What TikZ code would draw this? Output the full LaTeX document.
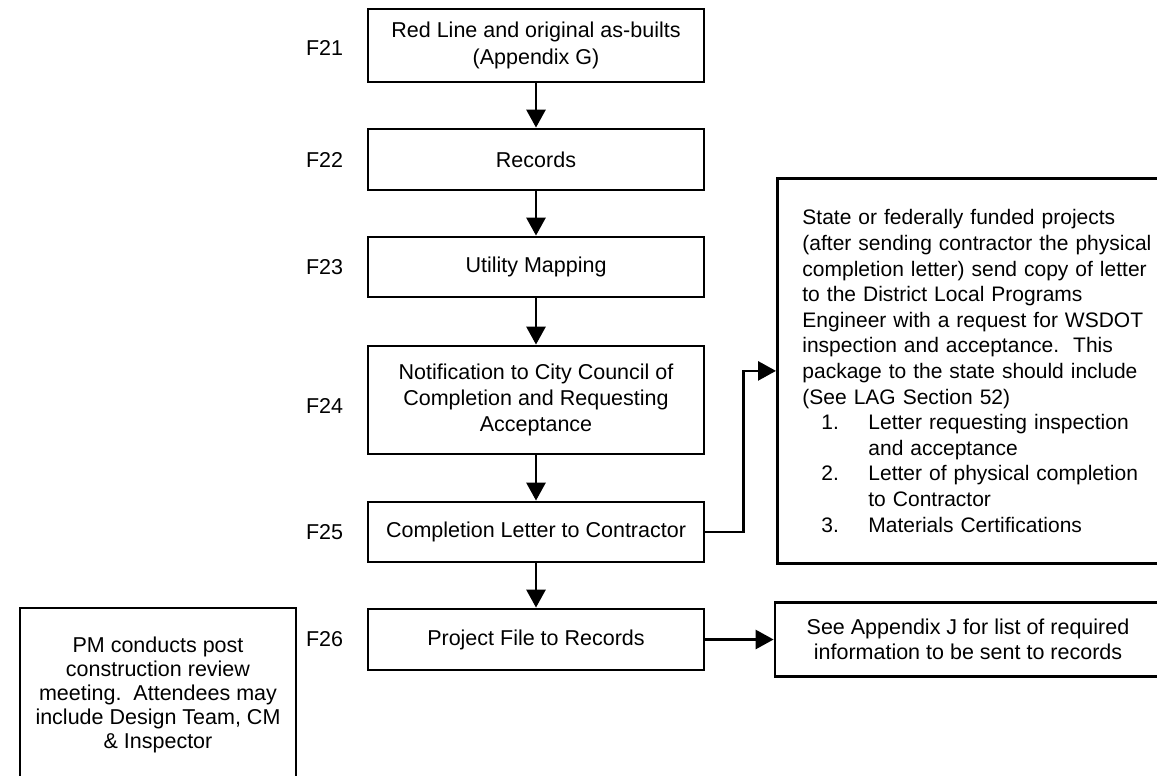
\documentclass[tikz,border=0pt]{standalone}
\usepackage{fontspec}
\setmainfont{Liberation Sans}
\usetikzlibrary{arrows.meta}

\begin{document}
\begin{tikzpicture}[x=1pt, y=-1pt,
  every node/.style={font=\fontsize{21.5}{25.6}\selectfont},
  stepbox/.style={draw, line width=2.8pt, minimum width=336pt,
                  inner sep=0pt, align=center},
  note/.style={draw, line width=2.8pt, inner sep=0pt},
  tag/.style={anchor=east},
  flow/.style={-{Triangle[length=18pt,width=19pt]}, line width=2.8pt}]
  \useasboundingbox (0,0) rectangle (1157,776);
  \clip (0,0) rectangle (1157,776);
  % main column
  \node[stepbox, minimum height=73pt] (f21) at (536,45.5) {Red Line and original as-builts\\[1pt](Appendix G)};
  \node[stepbox, minimum height=61pt] (f22) at (536,159.5) {Records};
  \node[stepbox, minimum height=60pt] (f23) at (536,267) {Utility Mapping};
  \node[stepbox, minimum height=108pt] (f24) at (536,400) {Notification to City Council of\\Completion and Requesting\\Acceptance};
  \node[stepbox, minimum height=60pt] (f25) at (536,532) {Completion Letter to Contractor};
  \node[stepbox, minimum height=61pt] (f26) at (536,639.5) {Project File to Records};
  % step numbers
  \node[tag] (l21) at ([xshift=-20pt,yshift=-2pt]f21.west) {F21};
  \node[tag] (l22) at ([xshift=-20pt]f22.west) {F22};
  \node[tag] (l23) at ([xshift=-20pt]f23.west) {F23};
  \node[tag] (l24) at ([xshift=-20pt,yshift=-6pt]f24.west) {F24};
  \node[tag] (l25) at ([xshift=-20pt]f25.west) {F25};
  \node[tag] (l26) at ([xshift=-20pt]f26.west) {F26};
  % side notes
  \node[note, anchor=north west, minimum height=385pt, inner xsep=25pt,
        text width=360pt, align=left, font=\fontsize{21}{25.6}\selectfont] (pkg) at (776,177)
       {State or federally funded projects\\
        (after sending contractor the physical\\
        completion letter) send copy of letter\\
        to the District Local Programs\\
        Engineer with a request for WSDOT\\
        inspection and acceptance.\ \ This\\
        package to the state should include\\
        (See LAG Section 52)\\
        \hspace*{19pt}\makebox[47pt][l]{1.}Letter requesting inspection\\
        \hspace*{66pt}and acceptance\\
        \hspace*{19pt}\makebox[47pt][l]{2.}Letter of physical completion\\
        \hspace*{66pt}to Contractor\\
        \hspace*{19pt}\makebox[47pt][l]{3.}Materials Certifications};
  \node[note, minimum width=386pt, minimum height=74pt, align=center] (appj) at (968,639.5)
       {See Appendix J for list of required\\information to be sent to records};
  \node[note, minimum width=276pt, minimum height=174pt, align=center,
        font=\fontsize{21.5}{24}\selectfont] (review) at (158,695)
       {PM conducts post\\construction review\\meeting.\ \ Attendees may\\include Design Team, CM\\\& Inspector};
  % connectors
  \draw[flow] (f21) -- (f22);
  \draw[flow] (f22) -- (f23);
  \draw[flow] (f23) -- (f24);
  \draw[flow] (f24) -- (f25);
  \draw[flow] (f25) -- (f26);
  \draw[flow] (f25.east) -- ++(38,0) |- (pkg.west);
  \draw[flow] (f26.east) -- (appj.west);
\end{tikzpicture}
\end{document}
